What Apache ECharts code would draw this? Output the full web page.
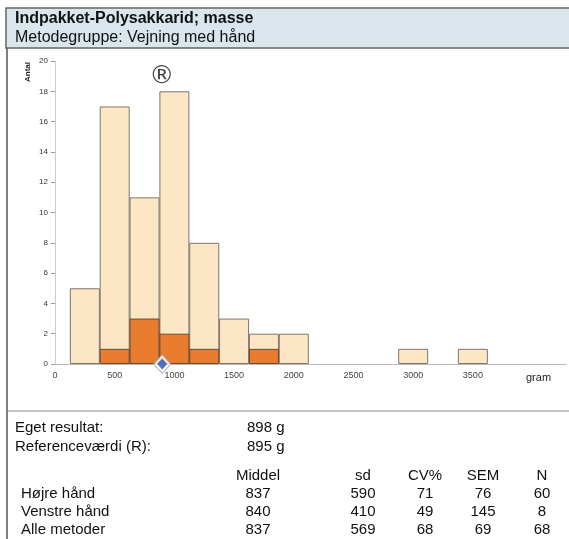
<!DOCTYPE html>
<html>
<head>
<meta charset="utf-8">
<script src="https://cdn.jsdelivr.net/npm/echarts@6/dist/echarts.min.js"></script>
<style>
    html,body{margin:0;padding:0;background:#fff;}
    #chart{width:569px;height:539px;}
</style>
</head>
<body>
<div id="chart"></div>
<script>
    // histogram bins (gram), total count per bin and the left-hand subset
    const binCenters = [250, 500, 750, 1000, 1250, 1500, 1750, 2000, 3000, 3500];
    const totalCounts = [5, 17, 11, 18, 8, 3, 2, 2, 1, 1];
    const venstreCounts = [0, 1, 3, 2, 1, 0, 1, 0, 0, 0];
    const xTicks = [0, 500, 1000, 1500, 2000, 2500, 3000, 3500];
    const ownResult = 898;
    const refValue = 895;

    const tableHead = ['Middel', 'sd', 'CV%', 'SEM', 'N'];
    const tableRows = ['Højre hånd', 'Venstre hånd', 'Alle metoder'];
    const tableVals = [
        [837, 590, 71, 76, 60],
        [840, 410, 49, 145, 8],
        [837, 569, 68, 69, 68]
    ];

    const font = '"Liberation Sans", Arial, sans-serif';
    const colX = [258, 363, 425, 483, 542];
    const rowY = [494, 512, 530];
    const txt = '15px ' + font;

    const graphics = [
        {type:'rect', shape:{x:6, y:8, width:570, height:40}, style:{fill:'#dae6ec', stroke:'#666', lineWidth:1.5}, z:-1},
        {type:'line', shape:{x1:7, y1:48, x2:7, y2:539}, style:{stroke:'#555', lineWidth:1.5}},
        {type:'line', shape:{x1:7, y1:411, x2:569, y2:411}, style:{stroke:'#888', lineWidth:1.2}},
        {type:'text', x:15, y:19, style:{text:'Indpakket-Polysakkarid; masse', font:'bold 16px ' + font, fill:'#111', verticalAlign:'middle'}},
        {type:'text', x:15, y:38, style:{text:'Metodegruppe: Vejning med hånd', font:'16px ' + font, fill:'#111', verticalAlign:'middle'}},
        {type:'text', x:28, y:72, rotation:Math.PI/2, style:{text:'Antal', font:'bold 8px ' + font, fill:'#222', align:'center', verticalAlign:'middle'}},
        {type:'text', x:526, y:378, style:{text:'gram', font:'11px ' + font, fill:'#222', verticalAlign:'middle'}},
        {type:'text', x:15, y:428, style:{text:'Eget resultat:', font:txt, fill:'#111', verticalAlign:'middle'}},
        {type:'text', x:247, y:428, style:{text:ownResult + ' g', font:txt, fill:'#111', verticalAlign:'middle'}},
        {type:'text', x:15, y:447, style:{text:'Referenceværdi (R):', font:txt, fill:'#111', verticalAlign:'middle'}},
        {type:'text', x:247, y:447, style:{text:refValue + ' g', font:txt, fill:'#111', verticalAlign:'middle'}}
    ];
    tableHead.forEach((h, i) => {
        graphics.push({type:'text', x:colX[i], y:476, style:{text:h, font:txt, fill:'#111', align:'center', verticalAlign:'middle'}});
    });
    tableRows.forEach((r, j) => {
        graphics.push({type:'text', x:21, y:rowY[j], style:{text:r, font:txt, fill:'#111', verticalAlign:'middle'}});
        tableVals[j].forEach((v, i) => {
            graphics.push({type:'text', x:colX[i], y:rowY[j], style:{text:String(v), font:txt, fill:'#111', align:'center', verticalAlign:'middle'}});
        });
    });

    const myChart = echarts.init(document.getElementById('chart'));
    let option = {
        animation:false,
        grid:{left:55, top:61, width:514, height:303},
        xAxis:{
            type:'value', min:0, max:4280, interval:500,
            axisLine:{lineStyle:{color:'#bbb'}},
            axisTick:{show:false},
            splitLine:{show:false},
            axisLabel:{
                fontSize:9, color:'#444', fontFamily:font, margin:7,
                formatter:v => xTicks.indexOf(v) >= 0 ? String(v) : ''
            }
        },
        yAxis:{
            type:'value', min:0, max:20, interval:2,
            axisLine:{show:true, lineStyle:{color:'#ccc'}},
            axisTick:{show:true, length:4, lineStyle:{color:'#999'}},
            splitLine:{show:false},
            axisLabel:{fontSize:8, color:'#333', fontFamily:font, margin:7}
        },
        series:[
            {
                name:'Alle', type:'bar', barWidth:30, barGap:'-100%',
                data:binCenters.map((x, i) => [x, totalCounts[i]]),
                itemStyle:{color:'#fde6c5', borderColor:'#7d776c', borderWidth:1}
            },
            {
                name:'Venstre hånd', type:'bar', barWidth:30, barGap:'-100%',
                data:binCenters.map((x, i) => venstreCounts[i] > 0 ? [x, venstreCounts[i]] : [x, null]),
                itemStyle:{color:'#ea7c2f', borderColor:'#6b4a30', borderWidth:1}
            },
            {
                name:'ref', type:'scatter', clip:false, symbolSize:0,
                data:[[refValue, 19.0]],
                label:{show:true, formatter:'®', fontSize:25, color:'#111', fontFamily:'"DejaVu Sans"', position:'inside'},
                z:5
            },
            {
                name:'egetOuter', type:'scatter', clip:false, symbol:'diamond', symbolSize:[17, 19],
                data:[[ownResult, 0]],
                itemStyle:{color:'#fff', borderColor:'#999', borderWidth:1},
                z:6
            },
            {
                name:'eget', type:'scatter', clip:false, symbol:'diamond', symbolSize:[10, 11],
                data:[[ownResult, 0]],
                itemStyle:{color:'#2a4db5'},
                z:7
            }
        ],
        graphic:graphics
    };
    myChart.setOption(option);
</script>
</body>
</html>
